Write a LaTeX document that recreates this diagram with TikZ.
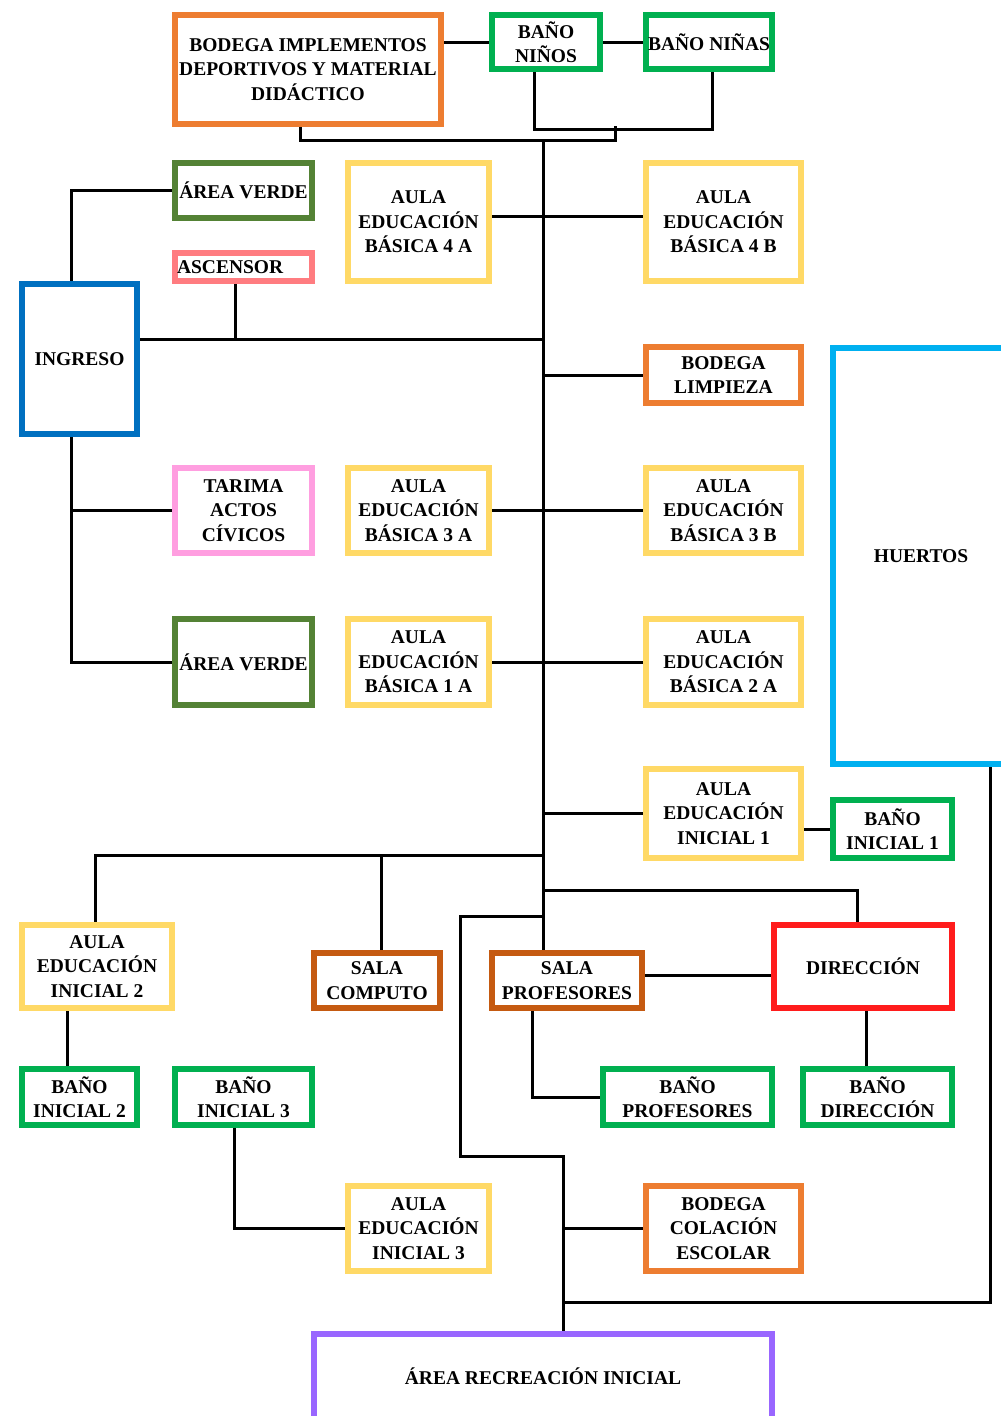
\documentclass[tikz,border=0pt]{standalone}
\usepackage{fontspec}
\setmainfont{Liberation Serif}
\usepackage{tikz}
\definecolor{bodegaOrange}{HTML}{ED7D31}
\definecolor{banoGreen}{HTML}{00B050}
\definecolor{verdeGreen}{HTML}{548235}
\definecolor{aulaYellow}{HTML}{FFD966}
\definecolor{ingresoBlue}{HTML}{0070C0}
\definecolor{huertoBlue}{HTML}{00B0F0}
\definecolor{ascensorRed}{HTML}{FF7C80}
\definecolor{tarimaPink}{HTML}{FF9EE0}
\definecolor{salaBrown}{HTML}{C55A11}
\definecolor{direccionRed}{HTML}{FF1C1C}
\definecolor{recreoPurple}{HTML}{9966FF}
\usetikzlibrary{positioning, backgrounds}

\begin{document}
\begin{tikzpicture}[
    x=1pt, y=-1pt,
    room/.style={rectangle, draw, fill=white, line width=6.5pt, inner sep=0pt, align=center, font=\fontsize{19.5}{24.5}\selectfont\bfseries},
    aula/.style={room, draw=aulaYellow},
    bano/.style={room, draw=banoGreen},
    bodega/.style={room, draw=bodegaOrange},
    sala/.style={room, draw=salaBrown},
    link/.style={black, line width=3pt}
]
    \useasboundingbox (0,0) rectangle (1001,1416);
    \clip (0,0) rectangle (1001,1416);

    % upper block
    \node[bodega, minimum width=266pt, minimum height=109pt] (bodegaImpl) at (308,69.5) {BODEGA IMPLEMENTOS\\DEPORTIVOS Y MATERIAL\\DIDÁCTICO};
    \node[bano, minimum width=108pt, minimum height=54pt] (banoNinos) at (546,42) {BAÑO\\NIÑOS};
    \node[bano, minimum width=126pt, minimum height=54pt] (banoNinas) at (709,42) {BAÑO NIÑAS};
    \node[room, draw=verdeGreen, minimum width=137pt, minimum height=55pt] (verdeA) at (243.5,190.5) {ÁREA VERDE};
    \node[room, draw=ascensorRed, minimum width=137pt, minimum height=28pt, text width=133pt, inner xsep=2pt, align=left] (ascensor) at (243.5,267) {ASCENSOR};
    \node[aula, minimum width=141pt, minimum height=118pt] (aula4A) at (418.5,222) {AULA\\EDUCACIÓN\\BÁSICA 4 A};
    \node[aula, minimum width=155pt, minimum height=118pt] (aula4B) at (723.5,222) {AULA\\EDUCACIÓN\\BÁSICA 4 B};
    \node[room, draw=ingresoBlue, minimum width=115pt, minimum height=150pt] (ingreso) at (79.5,359) {INGRESO};
    \node[bodega, minimum width=155pt, minimum height=56pt] (bodegaLimp) at (723.5,375) {BODEGA\\LIMPIEZA};
    \node[room, draw=huertoBlue, minimum width=176pt, minimum height=416pt] (huertos) at (921,556) {HUERTOS};

    % middle block
    \node[room, draw=tarimaPink, minimum width=137pt, minimum height=85pt] (tarima) at (243.5,510.5) {TARIMA\\ACTOS\\CÍVICOS};
    \node[aula, minimum width=141pt, minimum height=85pt] (aula3A) at (418.5,510.5) {AULA\\EDUCACIÓN\\BÁSICA 3 A};
    \node[aula, minimum width=155pt, minimum height=85pt] (aula3B) at (723.5,510.5) {AULA\\EDUCACIÓN\\BÁSICA 3 B};
    \node[room, draw=verdeGreen, minimum width=137pt, minimum height=86pt] (verdeB) at (243.5,662) {ÁREA VERDE};
    \node[aula, minimum width=141pt, minimum height=86pt] (aula1A) at (418.5,662) {AULA\\EDUCACIÓN\\BÁSICA 1 A};
    \node[aula, minimum width=155pt, minimum height=86pt] (aula2A) at (723.5,662) {AULA\\EDUCACIÓN\\BÁSICA 2 A};
    \node[aula, minimum width=155pt, minimum height=89pt] (aulaIni1) at (723.5,813.5) {AULA\\EDUCACIÓN\\INICIAL 1};
    \node[bano, minimum width=119pt, minimum height=58pt] (banoIni1) at (892.5,829) {BAÑO\\INICIAL 1};

    % lower block
    \node[aula, minimum width=150pt, minimum height=83pt] (aulaIni2) at (97,966.5) {AULA\\EDUCACIÓN\\INICIAL 2};
    \node[sala, minimum width=126pt, minimum height=55pt] (salaComp) at (377,980.5) {SALA\\COMPUTO};
    \node[sala, minimum width=150pt, minimum height=55pt] (salaProf) at (567,980.5) {SALA\\PROFESORES};
    \node[room, draw=direccionRed, minimum width=178pt, minimum height=83pt] (direccion) at (863,966.5) {DIRECCIÓN};
    \node[bano, minimum width=115pt, minimum height=56pt] (banoIni2) at (79.5,1097) {BAÑO\\INICIAL 2};
    \node[bano, minimum width=137pt, minimum height=56pt] (banoIni3) at (243.5,1097) {BAÑO\\INICIAL 3};
    \node[bano, minimum width=169pt, minimum height=56pt] (banoProf) at (687.5,1097) {BAÑO\\PROFESORES};
    \node[bano, minimum width=149pt, minimum height=56pt] (banoDir) at (877.5,1097) {BAÑO\\DIRECCIÓN};
    \node[aula, minimum width=141pt, minimum height=85pt] (aulaIni3) at (418.5,1228.5) {AULA\\EDUCACIÓN\\INICIAL 3};
    \node[bodega, minimum width=155pt, minimum height=85pt] (bodegaCol) at (723.5,1228.5) {BODEGA\\COLACIÓN\\ESCOLAR};
    \node[room, draw=recreoPurple, minimum width=458pt, minimum height=85pt] (recreo) at (543,1376.5) {ÁREA RECREACIÓN INICIAL};

    % junctions
    \coordinate (jTop) at (615,126);
    \coordinate (spTop) at (543,140);
    \coordinate (jIngreso) at (543,339);
    \coordinate (jLeft) at (543,855);
    \coordinate (jRight) at (543,890);
    \coordinate (jLoop) at (543,916);
    \coordinate (jLoopL) at (460,1156);
    \coordinate (jLow) at (563,1302);

    \begin{pgfonlayer}{background}
    \draw[link] (bodegaImpl.east |- banoNinos.west) -- (banoNinos.west);
    \draw[link] (banoNinos.east) -- (banoNinas.west);
    \draw[link] ([xshift=-12pt]banoNinos.south) -- ++(0,57) -| ([xshift=3pt]banoNinas.south);
    \draw[link] ([xshift=-8pt]bodegaImpl.south) |- (spTop) -| (jTop);
    \draw[link] (spTop) -- (spTop |- salaProf.north);

    \draw[link] ([yshift=6pt]aula4A.east) -- ([yshift=6pt]aula4B.west);
    \draw[link] ([xshift=-8pt]ingreso.north) |- (verdeA.west);
    \draw[link] ([yshift=20pt]ingreso.east) -- (jIngreso);
    \draw[link] ([xshift=-8pt]ascensor.south) -- ([xshift=-8pt]ascensor.south |- jIngreso);
    \draw[link] (spTop |- bodegaLimp.west) -- (bodegaLimp.west);

    \draw[link] ([xshift=-8pt]ingreso.south) |- (verdeB.west);
    \draw[link] ([xshift=-8pt]ingreso.south |- tarima.west) -- (tarima.west);
    \draw[link] (aula3A.east) -- (aula3B.west);
    \draw[link] (aula1A.east) -- (aula2A.west);
    \draw[link] (spTop |- aulaIni1.west) -- (aulaIni1.west);
    \draw[link] (aulaIni1.east |- banoIni1.west) -- (banoIni1.west);

    \draw[link] (jLeft) -| ([xshift=-2pt]aulaIni2.north);
    \draw[link] ([xshift=4pt]salaComp.north |- jLeft) -- ([xshift=4pt]salaComp.north);
    \draw[link] (jRight) -| ([xshift=-6pt]direccion.north);
    \draw[link] (jLoop) -| (jLoopL) -- (jLow |- jLoopL) -- (jLow |- recreo.north);
    \draw[link] (jLow |- bodegaCol.west) -- (bodegaCol.west);
    \draw[link] (jLow) -| ([xshift=69pt]huertos.south);

    \draw[link] ([yshift=5pt]salaProf.east) -- ([yshift=5pt]salaProf.east -| direccion.west);
    \draw[link] ([xshift=-35pt]salaProf.south) |- (banoProf.west);
    \draw[link] ([xshift=3pt]direccion.south) -- ([xshift=3pt]direccion.south |- banoDir.north);
    \draw[link] ([xshift=-30pt]aulaIni2.south) -- ([xshift=-30pt]aulaIni2.south |- banoIni2.north);
    \draw[link] ([xshift=-9pt]banoIni3.south) |- (aulaIni3.west);
    \end{pgfonlayer}
\end{tikzpicture}
\end{document}
